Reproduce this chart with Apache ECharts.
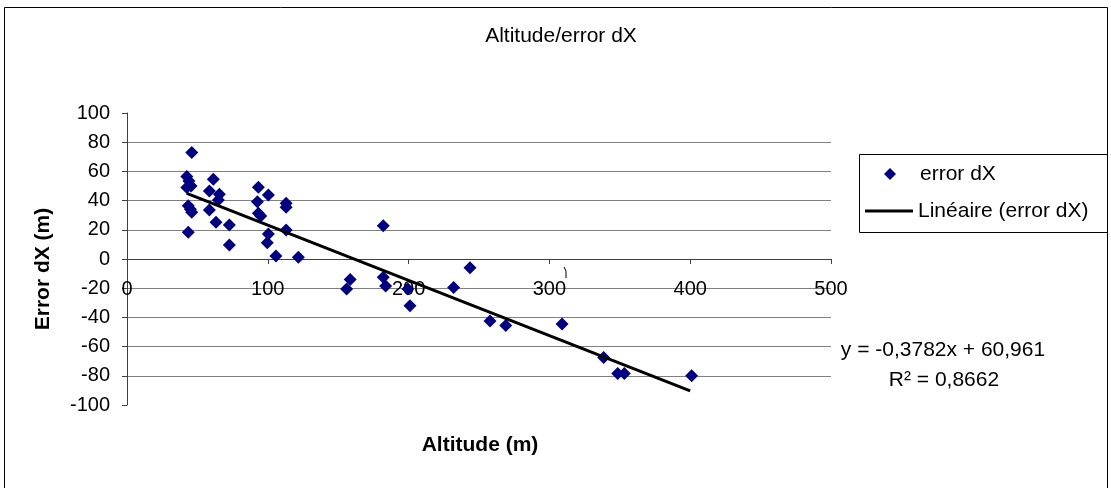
<!DOCTYPE html>
<html>
<head>
<meta charset="utf-8">
<script src="https://cdn.jsdelivr.net/npm/echarts@6/dist/echarts.min.js"></script>
<style>
html,body{margin:0;padding:0;background:#fff;}
#chart{width:1111px;height:488px;}
</style>
</head>
<body>
<div id="chart"></div>
<script>
// Data
const altitude = [46, 42.5, 44, 42.5, 45.5, 61.3, 58.5, 65.6, 64.9, 43.5, 46, 45, 58.5, 63.2, 72.7, 43.5, 72.7,
  93.3, 100.4, 92.6, 113, 113, 93.3, 95, 113, 100.4, 99.6, 105.8, 121.7,
  182, 158.5, 156, 182, 183.7, 199.5, 201, 232, 243.6, 257.8, 269, 309, 338.5, 348.5, 353.2, 401];
const errorDX = [73, 56.5, 53.5, 49, 50, 54.6, 46.6, 44.3, 40.4, 36.5, 32, 34, 33.6, 25.1, 23.3, 18.3, 9.6,
  49.1, 43.8, 39.2, 38.1, 35.4, 31.3, 29.5, 19.9, 17.1, 11.2, 2, 1.2,
  22.8, -14, -20.5, -12.5, -18.5, -20.5, -32, -19.6, -6, -42.5, -45.5, -44.5, -67.5, -78.5, -78.5, -80];
const trendX = [42.5, 400];
const trendY = [44.9, -90.3];
const xTicks = [0, 100, 200, 300, 400, 500];
const yTicks = [-100, -80, -60, -40, -20, 0, 20, 40, 60, 80, 100];
const titleText = 'Altitude/error dX';
const xName = 'Altitude (m)';
const yName = 'Error dX (m)';
const seriesName = 'error dX';
const trendName = 'Linéaire (error dX)';
const eqLine1 = 'y = -0,3782x + 60,961';
const eqLine2 = 'R² = 0,8662';

const scatterData = altitude.map((x, i) => [x, errorDX[i]]);
const trendData = trendX.map((x, i) => [x, trendY[i]]);
const FONT = 'Liberation Sans, Arial, sans-serif';

const chart = echarts.init(document.getElementById('chart'), null, {renderer: 'canvas'});
const gridColors = yTicks.map((v, i) => (i === 0 || i === yTicks.length - 1) ? 'rgba(0,0,0,0)' : '#808080');

chart.setOption({
  backgroundColor: '#fff',
  animation: false,
  grid: {left: 127, right: 280, top: 113, bottom: 83, containLabel: false},
  xAxis: {
    type: 'value', min: xTicks[0], max: xTicks[xTicks.length - 1], interval: 100,
    axisLine: {show: true, onZero: true, lineStyle: {color: '#404040', width: 1}},
    axisTick: {show: true, inside: false, length: 5, lineStyle: {color: '#404040'}},
    axisLabel: {color: '#000', fontSize: 20, fontFamily: FONT, margin: -126},
    splitLine: {show: false}
  },
  yAxis: {
    type: 'value', min: yTicks[0], max: yTicks[yTicks.length - 1], interval: 20,
    axisLine: {show: true, onZero: false, lineStyle: {color: '#404040', width: 1}},
    axisTick: {show: true, inside: false, length: 5, lineStyle: {color: '#404040'}},
    axisLabel: {color: '#000', fontSize: 20, fontFamily: FONT, margin: 17},
    splitLine: {show: true, lineStyle: {color: gridColors, width: 1}}
  },
  legend: [
    {
      data: [{name: seriesName, icon: 'diamond'}],
      left: 884, top: 162, padding: 0,
      itemWidth: 12, itemHeight: 12,
      itemStyle: {opacity: 1},
      textStyle: {fontSize: 21, fontFamily: FONT, color: '#000', padding: [0, 0, 0, 19], lineHeight: 24}
    },
    {
      data: [{name: trendName, icon: 'rect'}],
      left: 865, top: 199, padding: 0,
      itemWidth: 48, itemHeight: 3,
      textStyle: {fontSize: 21, fontFamily: FONT, color: '#000', lineHeight: 24}
    }
  ],
  graphic: [
    {type: 'rect', shape: {x: 4.5, y: 7.5, width: 1103, height: 500}, style: {fill: 'none', stroke: '#000', lineWidth: 1}, silent: true, z: -1},
    {type: 'rect', shape: {x: 859.5, y: 154.5, width: 248, height: 78}, style: {fill: 'none', stroke: '#000', lineWidth: 1}, silent: true},
    {type: 'text', x: 561, y: 36, style: {text: titleText, font: '21px ' + FONT, fill: '#000', textAlign: 'center', textVerticalAlign: 'middle'}},
    {type: 'text', x: 480, y: 445, style: {text: xName, font: 'bold 21px ' + FONT, fill: '#000', textAlign: 'center', textVerticalAlign: 'middle'}},
    {type: 'text', x: 43, y: 269, rotation: Math.PI / 2, style: {text: yName, font: 'bold 21px ' + FONT, fill: '#000', textAlign: 'center', textVerticalAlign: 'middle'}},
    {type: 'text', x: 943, y: 350, style: {text: eqLine1, font: '21px ' + FONT, fill: '#000', textAlign: 'center', textVerticalAlign: 'middle'}},
    {type: 'text', x: 944, y: 380, style: {text: eqLine2, font: '21px ' + FONT, fill: '#000', textAlign: 'center', textVerticalAlign: 'middle'}},
    {type: 'polyline', shape: {points: [[564, 267], [566, 271], [566, 278]]}, style: {stroke: '#000', lineWidth: 1, fill: 'none'}}
  ],
  series: [
    {
      name: seriesName, type: 'scatter', data: scatterData,
      symbol: 'diamond', symbolSize: 13,
      itemStyle: {color: '#000080', opacity: 1}, z: 3
    },
    {
      name: trendName, type: 'line', data: trendData,
      showSymbol: false, symbol: 'none',
      lineStyle: {color: '#000', width: 3}, itemStyle: {color: '#000'}, z: 4
    }
  ]
});
</script>
</body>
</html>
